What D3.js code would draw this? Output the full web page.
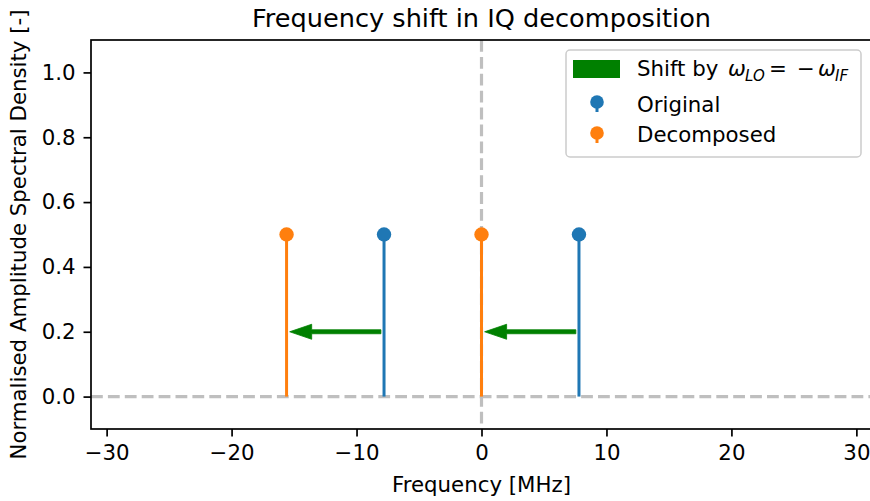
<!doctype html>
<html>
<head>
    <style>
        body {
            margin: 0;
            background: #ffffff;
            font-family: "DejaVu Sans", sans-serif;
        }
        .tick text {
            font-size: 21.3px;
            font-family: "DejaVu Sans", sans-serif;
        }
    </style>
    <script src="https://d3js.org/d3.v7.min.js"></script>
</head>
<body>
<div id="chart"></div>
<script>
    // data
    var origFreq = [-7.8, 7.8];
    var origAmp = [0.5, 0.5];
    var decFreq = [-15.6, 0];
    var decAmp = [0.5, 0.5];
    var shiftLevel = 0.2;
    var xTicks = [-30, -20, -10, 0, 10, 20, 30];
    var yTicks = [0, 0.2, 0.4, 0.6, 0.8, 1.0];

    var W = 870, H = 501;
    var margin = {top: 40, left: 91},
        width = 781,
        height = 389;

    var svgRoot = d3.select("#chart").append("svg")
        .attr("width", W)
        .attr("height", H);

    svgRoot.append("defs").append("clipPath").attr("id", "clip")
        .append("rect").attr("width", width).attr("height", height);

    var svg = svgRoot.append("g")
        .attr("transform", "translate(" + margin.left + "," + margin.top + ")");

    var x = d3.scaleLinear().domain([-31.25, 31.25]).range([0, width]);
    var y = d3.scaleLinear().domain([-0.1, 1.1]).range([height, 0]);

    var blue = "#1f77b4", orange = "#ff7f0e", green = "#008000";

    var plot = svg.append("g").attr("clip-path", "url(#clip)");

    // reference lines
    plot.append("line")
        .attr("x1", 0).attr("x2", width)
        .attr("y1", y(0)).attr("y2", y(0))
        .attr("stroke", "#bfbfbf").attr("stroke-width", 3.2)
        .attr("stroke-dasharray", "11.8,5.1");
    plot.append("line")
        .attr("x1", x(0)).attr("x2", x(0))
        .attr("y1", 0).attr("y2", height)
        .attr("stroke", "#bfbfbf").attr("stroke-width", 3.2)
        .attr("stroke-dasharray", "11.8,5.1");

    function stems(freqs, amps, color) {
        var g = plot.append("g");
        g.selectAll("line")
            .data(freqs)
            .enter().append("line")
            .attr("x1", function(d) { return x(d); })
            .attr("x2", function(d) { return x(d); })
            .attr("y1", y(0))
            .attr("y2", function(d, i) { return y(amps[i]); })
            .attr("stroke", color).attr("stroke-width", 3);
        g.selectAll("circle")
            .data(freqs)
            .enter().append("circle")
            .attr("cx", function(d) { return x(d); })
            .attr("cy", function(d, i) { return y(amps[i]); })
            .attr("r", 7.2)
            .attr("fill", color);
    }
    stems(origFreq, origAmp, blue);
    stems(decFreq, decAmp, orange);

    // shift arrows
    origFreq.forEach(function(f, i) {
        var x0 = x(f - 0.25), x1 = x(decFreq[i] + 0.25), yy = y(shiftLevel);
        var headLen = 22, headHalf = 7.5, shaft = 2;
        var xs = x1 + headLen;
        plot.append("path")
            .attr("d", "M" + x0 + "," + (yy - shaft) +
                " L" + xs + "," + (yy - shaft) +
                " L" + xs + "," + (yy - headHalf) +
                " L" + x1 + "," + yy +
                " L" + xs + "," + (yy + headHalf) +
                " L" + xs + "," + (yy + shaft) +
                " L" + x0 + "," + (yy + shaft) + " Z")
            .attr("fill", green)
            .attr("stroke", green)
            .attr("stroke-width", 0.8)
            .attr("stroke-linejoin", "round");
    });

    // axes
    var xAxis = svg.append("g")
        .attr("transform", "translate(0," + height + ")")
        .call(d3.axisBottom(x).tickValues(xTicks).tickSize(7.5).tickPadding(8)
            .tickFormat(function(d) { return d < 0 ? "\u2212" + Math.abs(d) : d; }));
    var yAxis = svg.append("g")
        .call(d3.axisLeft(y).tickValues(yTicks).tickSize(7.5).tickPadding(8)
            .tickFormat(d3.format(".1f")));
    [xAxis, yAxis].forEach(function(a) {
        a.select(".domain").remove();
        a.selectAll(".tick line").attr("stroke", "#000").attr("stroke-width", 1.7);
        a.selectAll(".tick text").attr("fill", "#000");
    });

    // spines
    svg.append("rect")
        .attr("width", width).attr("height", height)
        .attr("fill", "none").attr("stroke", "#000").attr("stroke-width", 1.7);

    // labels
    svgRoot.append("text")
        .attr("x", margin.left + width / 2).attr("y", 27)
        .attr("text-anchor", "middle")
        .style("font-size", "25.6px")
        .text("Frequency shift in IQ decomposition");
    svgRoot.append("text")
        .attr("x", margin.left + width / 2).attr("y", 492)
        .attr("text-anchor", "middle")
        .style("font-size", "21.3px")
        .text("Frequency [MHz]");
    svgRoot.append("text")
        .attr("transform", "translate(25.5," + (margin.top + height / 2) + ") rotate(-90)")
        .attr("text-anchor", "middle")
        .style("font-size", "21.3px")
        .text("Normalised Amplitude Spectral Density [-]");

    // legend
    var lg = svgRoot.append("g").attr("transform", "translate(566,50)");
    lg.append("rect")
        .attr("width", 295).attr("height", 107)
        .attr("rx", 4)
        .attr("fill", "#fff").attr("fill-opacity", 0.8)
        .attr("stroke", "#cccccc").attr("stroke-width", 1.5);
    lg.append("rect")
        .attr("x", 7).attr("y", 10).attr("width", 47).attr("height", 18)
        .attr("fill", green);
    lg.append("text").attr("x", 71).attr("y", 26).style("font-size", "21.3px").text("Shift by");
    var mathParts = [
        {t: "\u03c9", x: 162, it: true},
        {t: "LO", x: 179, it: true, sub: true},
        {t: "=", x: 203},
        {t: "\u2212", x: 231},
        {t: "\u03c9", x: 252, it: true},
        {t: "IF", x: 269, it: true, sub: true}
    ];
    mathParts.forEach(function(p) {
        lg.append("text")
            .attr("x", p.x)
            .attr("y", p.sub ? 31 : 26)
            .style("font-size", p.sub ? "15px" : "21.3px")
            .style("font-style", p.it ? "italic" : "normal")
            .text(p.t);
    });

    [["Original", blue, 52, 62], ["Decomposed", orange, 83, 92]].forEach(function(e) {
        var cy = e[2];
        lg.append("line")
            .attr("x1", 31).attr("x2", 31)
            .attr("y1", cy).attr("y2", cy + 10)
            .attr("stroke", e[1]).attr("stroke-width", 3);
        lg.append("circle").attr("cx", 31).attr("cy", cy).attr("r", 6.8).attr("fill", e[1]);
        lg.append("text").attr("x", 71).attr("y", e[3]).style("font-size", "21.3px").text(e[0]);
    });
</script>
</body>
</html>
